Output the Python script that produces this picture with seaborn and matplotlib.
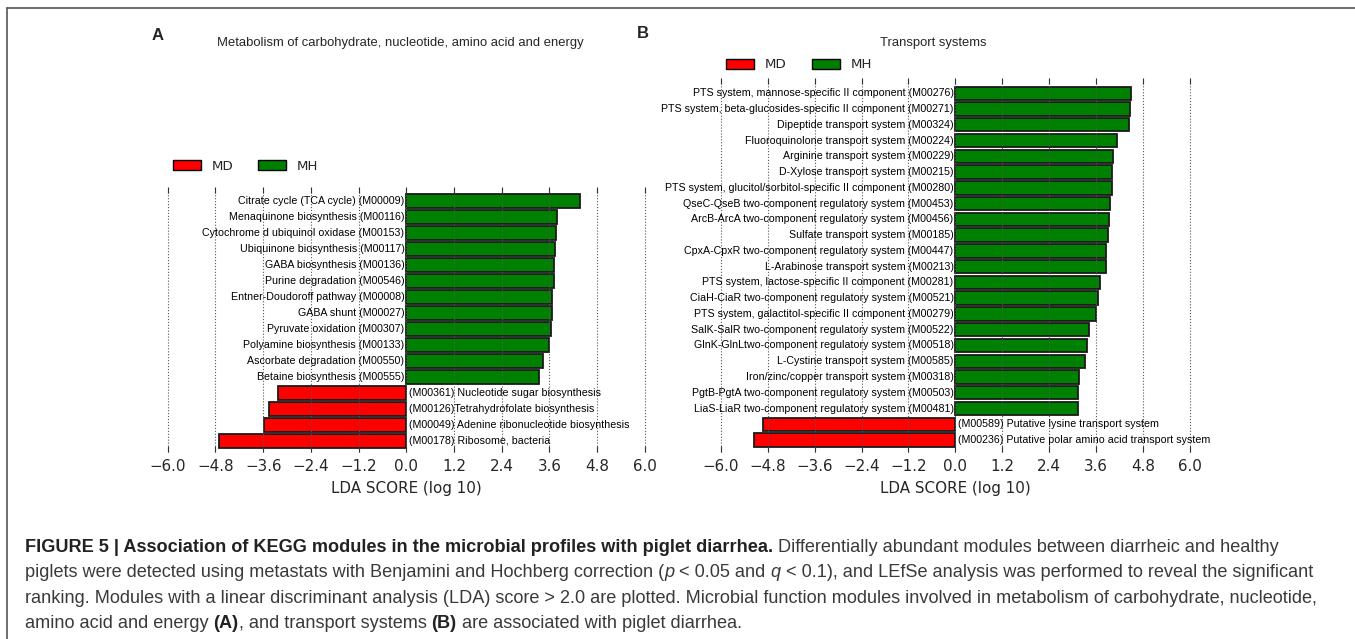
import matplotlib
matplotlib.use('Agg')
import matplotlib.pyplot as plt
import seaborn as sns
import pandas as pd
from matplotlib.patches import Patch
from matplotlib.lines import Line2D
from matplotlib.ticker import FuncFormatter

sns.set_style('white')
plt.rcParams['font.family'] = ['DejaVu Sans']

# ---------------- data ----------------
groups = ['MD', 'MH']
group_colors = {'MD': '#FF0000', 'MH': '#008000'}

a_title = 'Metabolism of carbohydrate, nucleotide, amino acid and energy'
a_names = [
    'Citrate cycle (TCA cycle) (M00009)',
    'Menaquinone biosynthesis (M00116)',
    'Cytochrome d ubiquinol oxidase (M00153)',
    'Ubiquinone biosynthesis (M00117)',
    'GABA biosynthesis (M00136)',
    'Purine degradation (M00546)',
    'Entner-Doudoroff pathway (M00008)',
    'GABA shunt (M00027)',
    'Pyruvate oxidation (M00307)',
    'Polyamine biosynthesis (M00133)',
    'Ascorbate degradation (M00550)',
    'Betaine biosynthesis (M00555)',
    '(M00361) Nucleotide sugar biosynthesis',
    '(M00126)Tetrahydrofolate biosynthesis',
    '(M00049) Adenine ribonucleotide biosynthesis',
    '(M00178) Ribosome, bacteria',
]
a_scores = [4.37, 3.78, 3.76, 3.74, 3.72, 3.71, 3.67, 3.66, 3.63, 3.58, 3.45, 3.34,
            -3.23, -3.45, -3.59, -4.72]

b_title = 'Transport systems'
b_names = [
    'PTS system, mannose-specific II component (M00276)',
    'PTS system, beta-glucosides-specific II component (M00271)',
    'Dipeptide transport system (M00324)',
    'Fluoroquinolone transport system (M00224)',
    'Arginine transport system (M00229)',
    'D-Xylose transport system (M00215)',
    'PTS system, glucitol/sorbitol-specific II component (M00280)',
    'QseC-QseB two-component regulatory system (M00453)',
    'ArcB-ArcA two-component regulatory system (M00456)',
    'Sulfate transport system (M00185)',
    'CpxA-CpxR two-component regulatory system (M00447)',
    'L-Arabinose transport system (M00213)',
    'PTS system, lactose-specific II component (M00281)',
    'CiaH-CiaR two-component regulatory system (M00521)',
    'PTS system, galactitol-specific II component (M00279)',
    'SalK-SalR two-component regulatory system (M00522)',
    'GlnK-GlnLtwo-component regulatory system (M00518)',
    'L-Cystine transport system (M00585)',
    'Iron/zinc/copper transport system (M00318)',
    'PgtB-PgtA two-component regulatory system (M00503)',
    'LiaS-LiaR two-component regulatory system (M00481)',
    '(M00589) Putative lysine transport system',
    '(M00236) Putative polar amino acid transport system',
]
b_scores = [4.49, 4.47, 4.45, 4.13, 4.04, 4.02, 4.00, 3.96, 3.93, 3.92, 3.85, 3.85,
            3.70, 3.64, 3.60, 3.42, 3.38, 3.33, 3.16, 3.14, 3.13, -4.92, -5.16]

x_ticks = [-6.0, -4.8, -3.6, -2.4, -1.2, 0.0, 1.2, 2.4, 3.6, 4.8, 6.0]
x_label = 'LDA SCORE (log 10)'
panel_letters = ['A', 'B']

caption_lines = [
    [('FIGURE 5 | Association of KEGG modules in the microbial profiles with piglet diarrhea.', 'bold', 'normal'),
     (' Differentially abundant modules between diarrheic and healthy', 'normal', 'normal')],
    [('piglets were detected using metastats with Benjamini and Hochberg correction (', 'normal', 'normal'),
     ('p', 'normal', 'italic'), (' < 0.05 and ', 'normal', 'normal'), ('q', 'normal', 'italic'),
     (' < 0.1), and LEfSe analysis was performed to reveal the significant', 'normal', 'normal')],
    [('ranking. Modules with a linear discriminant analysis (LDA) score > 2.0 are plotted. Microbial function modules involved in metabolism of carbohydrate, nucleotide,', 'normal', 'normal')],
    [('amino acid and energy ', 'normal', 'normal'), ('(A)', 'bold', 'normal'),
     (', and transport systems ', 'normal', 'normal'), ('(B)', 'bold', 'normal'),
     (' are associated with piglet diarrhea.', 'normal', 'normal')],
]

# ---------------- layout ----------------
W, H, DPI = 1355, 639, 100
fig = plt.figure(figsize=(W / DPI, H / DPI), dpi=DPI)
fig.patch.set_facecolor('white')

LABEL_FONT = 'Liberation Sans'


def px_rect(l, t, r, b):
    return [l / W, 1 - b / H, (r - l) / W, (b - t) / H]


def minus_fmt(v, p):
    return f'{v:.1f}'.replace('-', '\u2212')


def panel(rect, names, scores, pad_top, pad_bot):
    ax = fig.add_axes(rect)
    df = pd.DataFrame({'name': names, 'score': scores,
                       'group': ['MH' if s > 0 else 'MD' for s in scores]})
    sns.barplot(data=df, x='score', y='name', hue='group', hue_order=groups,
                palette=group_colors, dodge=False, orient='h', width=0.85,
                saturation=1, edgecolor='#1a1a1a', linewidth=1.3, legend=False, ax=ax)
    for i, (n, s) in enumerate(zip(names, scores)):
        ax.annotate(n, xy=(0, i), xytext=(-1.3 if s > 0 else 1.6, 0),
                    textcoords='offset points', ha='right' if s > 0 else 'left',
                    va='center', fontsize=7.7, family=LABEL_FONT, color='black')
    ax.set_xlim(x_ticks[0], x_ticks[-1])
    ax.set_ylim(len(names) - 1 + pad_bot, -pad_top)
    ax.set_xticks(x_ticks)
    ax.xaxis.set_major_formatter(FuncFormatter(minus_fmt))
    ax.tick_params(axis='x', direction='in', top=True, bottom=True, length=4,
                   width=0.8, color='#333333', labelsize=10.9, pad=5.5)
    ax.tick_params(axis='y', left=False, labelleft=False)
    ax.set_ylabel('')
    ax.set_xlabel(x_label, fontsize=10.9, labelpad=5)
    for sp in ax.spines.values():
        sp.set_visible(False)
    ax.grid(axis='x', linestyle=':', color='#555555', linewidth=0.8)
    ax.grid(axis='y', visible=False)
    ax.set_axisbelow(False)
    for gl in ax.get_xgridlines():
        gl.set_clip_on(False)
    return ax


ax_a = panel(px_rect(167.7, 186.7, 644.9, 451.7), a_names, a_scores, 0.875, 0.67)
ax_b = panel(px_rect(721.0, 78.3, 1189.7, 451.7), b_names, b_scores, 0.95, 0.74)

handles = [Patch(facecolor=group_colors[g], edgecolor='black', linewidth=1.0, label=g)
           for g in groups]
for (lx, ly) in [(172.7, 166), (726, 65)]:
    fig.legend(handles=handles, loc='center left', bbox_to_anchor=(lx / W, 1 - ly / H),
               ncol=2, frameon=False, fontsize=9.6, handlelength=2.1, handleheight=0.8,
               handletextpad=0.8, columnspacing=1.9, borderpad=0, borderaxespad=0)

# panel letters and titles
fig.text(151.7 / W, 1 - 35 / H, panel_letters[0], ha='left', va='center', fontsize=12,
         fontweight='bold', family=LABEL_FONT)
fig.text(636.7 / W, 1 - 34 / H, panel_letters[1], ha='left', va='center', fontsize=12,
         fontweight='bold', family=LABEL_FONT)
fig.text(400 / W, 1 - 43 / H, a_title, ha='center', va='center', fontsize=9.4, family=LABEL_FONT)
fig.text(933 / W, 1 - 43 / H, b_title, ha='center', va='center', fontsize=9.4, family=LABEL_FONT)

# frame lines
fig.add_artist(Line2D([7 / W, 7 / W], [0, 1 - 8 / H], transform=fig.transFigure,
                      color='#555555', lw=1.2))
fig.add_artist(Line2D([7 / W, 1], [1 - 8 / H, 1 - 8 / H], transform=fig.transFigure,
                      color='#555555', lw=1.2))

# caption
renderer = fig.canvas.get_renderer()
CAP_FS = 13.1


def advance(txt, weight, style):
    t1 = fig.text(0, 0, txt + 'x', fontsize=CAP_FS, fontweight=weight, fontstyle=style,
                  family=LABEL_FONT)
    t2 = fig.text(0, 0, 'x', fontsize=CAP_FS, fontweight=weight, fontstyle=style,
                  family=LABEL_FONT)
    w = t1.get_window_extent(renderer).width - t2.get_window_extent(renderer).width
    t1.remove()
    t2.remove()
    return w


baselines = [552, 577, 603, 628]
for segs, yb in zip(caption_lines, baselines):
    x = 25.0
    for txt, weight, style in segs:
        fig.text(x / W, 1 - yb / H, txt, ha='left', va='baseline', fontsize=CAP_FS,
                 fontweight=weight, fontstyle=style, family=LABEL_FONT,
                 color='#222222' if weight == 'bold' else '#3a3a3a')
        x += advance(txt, weight, style)

fig.savefig('out.png', dpi=DPI, facecolor='white')
